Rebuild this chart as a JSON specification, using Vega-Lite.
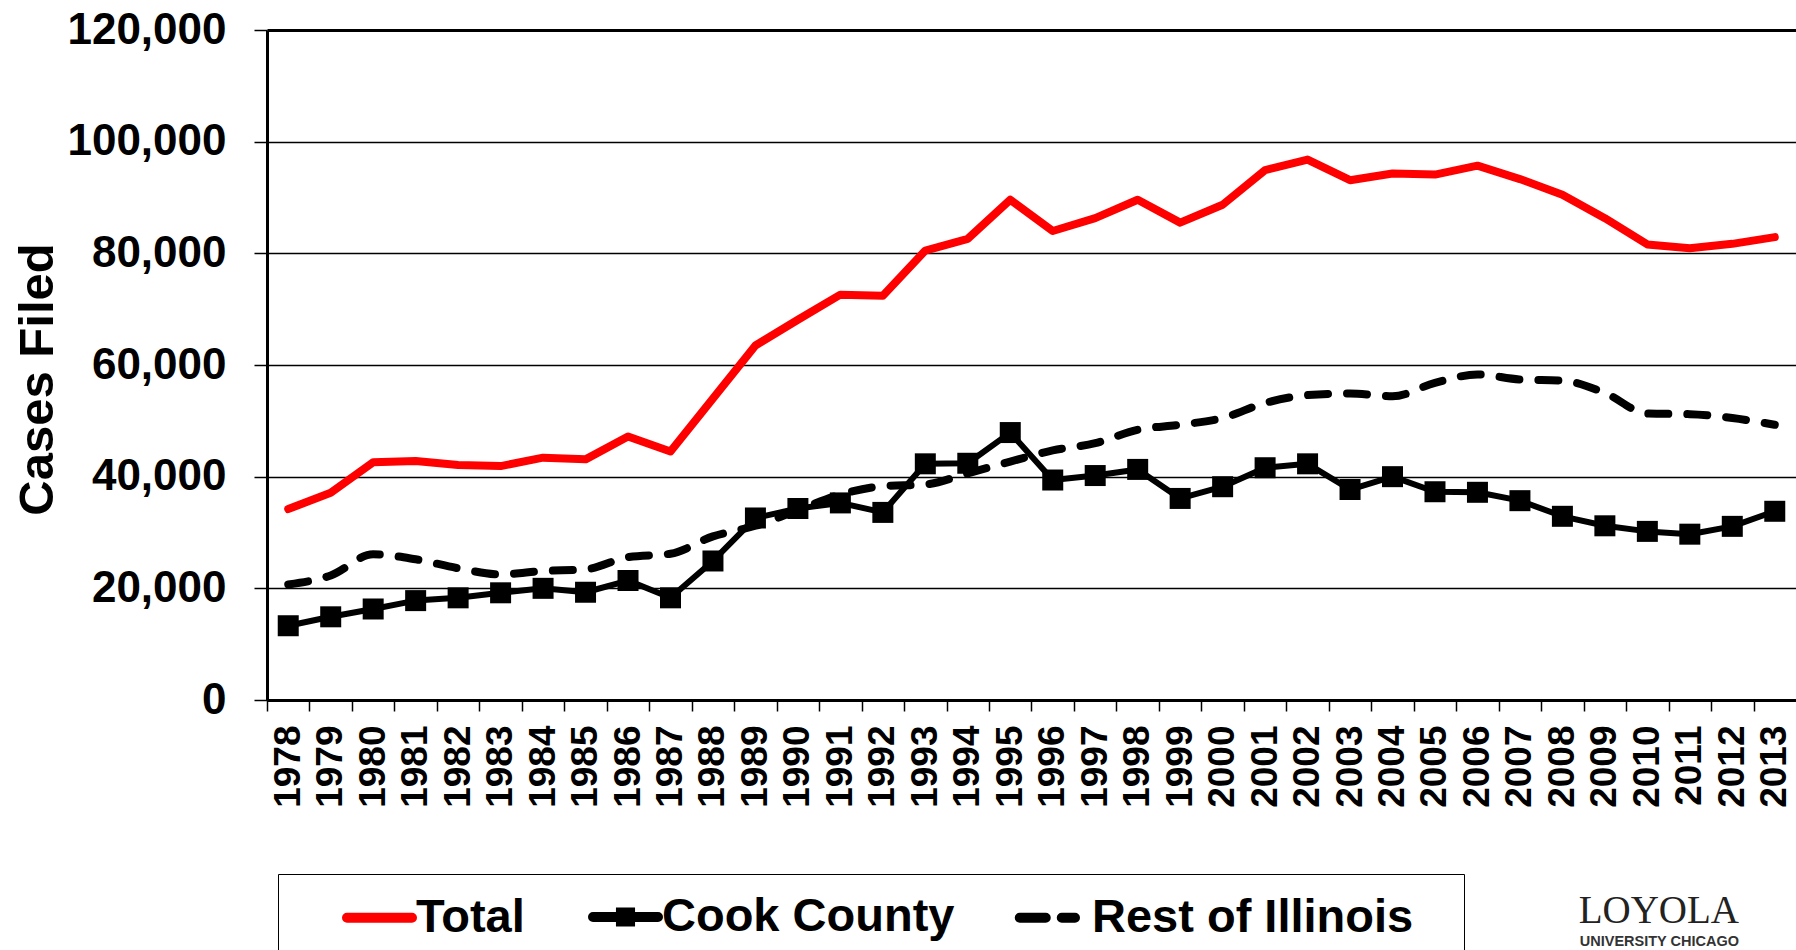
{
  "$schema": "https://vega.github.io/schema/vega-lite/v6.json",
  "autosize": {"type": "none"},
  "padding": {"left": 267, "top": 30, "right": 0, "bottom": 250},
  "width": 1529,
  "height": 670,
  "background": "white",
  "config": {
    "font": "Liberation Sans",
    "view": {"stroke": null},
    "axis": {"labelFont": "Liberation Sans", "labelFontWeight": "bold", "labelColor": "black", "titleFont": "Liberation Sans", "titleFontWeight": "bold", "titleColor": "black", "domainColor": "black", "tickColor": "black"}
  },
  "title": {
    "text": "LOYOLA",
    "subtitle": "UNIVERSITY CHICAGO",
    "orient": "bottom",
    "anchor": "end",
    "frame": "group",
    "font": "Liberation Serif",
    "fontSize": 39,
    "fontWeight": "normal",
    "color": "#222222",
    "subtitleFont": "Liberation Sans",
    "subtitleFontSize": 14.5,
    "subtitleFontWeight": "bold",
    "subtitleColor": "#333333",
    "subtitlePadding": 4,
    "dx": -57,
    "offset": -69
  },
  "data": {
    "values": [
      {"year": "1978", "series": "Total", "value": 34200}, {"year": "1979", "series": "Total", "value": 37100}, {"year": "1980", "series": "Total", "value": 42600}, {"year": "1981", "series": "Total", "value": 42800}, {"year": "1982", "series": "Total", "value": 42100}, {"year": "1983", "series": "Total", "value": 41900}, {"year": "1984", "series": "Total", "value": 43400}, {"year": "1985", "series": "Total", "value": 43100}, {"year": "1986", "series": "Total", "value": 47200}, {"year": "1987", "series": "Total", "value": 44500}, {"year": "1988", "series": "Total", "value": 54000}, {"year": "1989", "series": "Total", "value": 63500}, {"year": "1990", "series": "Total", "value": 68100}, {"year": "1991", "series": "Total", "value": 72600}, {"year": "1992", "series": "Total", "value": 72400}, {"year": "1993", "series": "Total", "value": 80500}, {"year": "1994", "series": "Total", "value": 82600}, {"year": "1995", "series": "Total", "value": 89600}, {"year": "1996", "series": "Total", "value": 84000}, {"year": "1997", "series": "Total", "value": 86300}, {"year": "1998", "series": "Total", "value": 89600}, {"year": "1999", "series": "Total", "value": 85500}, {"year": "2000", "series": "Total", "value": 88700}, {"year": "2001", "series": "Total", "value": 94900}, {"year": "2002", "series": "Total", "value": 96800}, {"year": "2003", "series": "Total", "value": 93100}, {"year": "2004", "series": "Total", "value": 94300}, {"year": "2005", "series": "Total", "value": 94100}, {"year": "2006", "series": "Total", "value": 95700}, {"year": "2007", "series": "Total", "value": 93300}, {"year": "2008", "series": "Total", "value": 90500}, {"year": "2009", "series": "Total", "value": 86300}, {"year": "2010", "series": "Total", "value": 81600}, {"year": "2011", "series": "Total", "value": 80900}, {"year": "2012", "series": "Total", "value": 81700}, {"year": "2013", "series": "Total", "value": 82900},
      {"year": "1978", "series": "Cook County", "value": 13300}, {"year": "1979", "series": "Cook County", "value": 14900}, {"year": "1980", "series": "Cook County", "value": 16300}, {"year": "1981", "series": "Cook County", "value": 17800}, {"year": "1982", "series": "Cook County", "value": 18300}, {"year": "1983", "series": "Cook County", "value": 19200}, {"year": "1984", "series": "Cook County", "value": 20000}, {"year": "1985", "series": "Cook County", "value": 19300}, {"year": "1986", "series": "Cook County", "value": 21400}, {"year": "1987", "series": "Cook County", "value": 18300}, {"year": "1988", "series": "Cook County", "value": 24900}, {"year": "1989", "series": "Cook County", "value": 32600}, {"year": "1990", "series": "Cook County", "value": 34300}, {"year": "1991", "series": "Cook County", "value": 35300}, {"year": "1992", "series": "Cook County", "value": 33600}, {"year": "1993", "series": "Cook County", "value": 42300}, {"year": "1994", "series": "Cook County", "value": 42400}, {"year": "1995", "series": "Cook County", "value": 47900}, {"year": "1996", "series": "Cook County", "value": 39400}, {"year": "1997", "series": "Cook County", "value": 40200}, {"year": "1998", "series": "Cook County", "value": 41300}, {"year": "1999", "series": "Cook County", "value": 36100}, {"year": "2000", "series": "Cook County", "value": 38200}, {"year": "2001", "series": "Cook County", "value": 41600}, {"year": "2002", "series": "Cook County", "value": 42300}, {"year": "2003", "series": "Cook County", "value": 37700}, {"year": "2004", "series": "Cook County", "value": 40000}, {"year": "2005", "series": "Cook County", "value": 37300}, {"year": "2006", "series": "Cook County", "value": 37200}, {"year": "2007", "series": "Cook County", "value": 35700}, {"year": "2008", "series": "Cook County", "value": 32900}, {"year": "2009", "series": "Cook County", "value": 31200}, {"year": "2010", "series": "Cook County", "value": 30200}, {"year": "2011", "series": "Cook County", "value": 29700}, {"year": "2012", "series": "Cook County", "value": 31100}, {"year": "2013", "series": "Cook County", "value": 33800},
      {"year": "1978", "series": "Rest of Illinois", "value": 20700}, {"year": "1979", "series": "Rest of Illinois", "value": 22300}, {"year": "1980", "series": "Rest of Illinois", "value": 26100}, {"year": "1981", "series": "Rest of Illinois", "value": 25200}, {"year": "1982", "series": "Rest of Illinois", "value": 23600}, {"year": "1983", "series": "Rest of Illinois", "value": 22500}, {"year": "1984", "series": "Rest of Illinois", "value": 23100}, {"year": "1985", "series": "Rest of Illinois", "value": 23400}, {"year": "1986", "series": "Rest of Illinois", "value": 25600}, {"year": "1987", "series": "Rest of Illinois", "value": 26200}, {"year": "1988", "series": "Rest of Illinois", "value": 29300}, {"year": "1989", "series": "Rest of Illinois", "value": 31200}, {"year": "1990", "series": "Rest of Illinois", "value": 34000}, {"year": "1991", "series": "Rest of Illinois", "value": 36800}, {"year": "1992", "series": "Rest of Illinois", "value": 38300}, {"year": "1993", "series": "Rest of Illinois", "value": 38600}, {"year": "1994", "series": "Rest of Illinois", "value": 40600}, {"year": "1995", "series": "Rest of Illinois", "value": 42700}, {"year": "1996", "series": "Rest of Illinois", "value": 44700}, {"year": "1997", "series": "Rest of Illinois", "value": 46000}, {"year": "1998", "series": "Rest of Illinois", "value": 48400}, {"year": "1999", "series": "Rest of Illinois", "value": 49300}, {"year": "2000", "series": "Rest of Illinois", "value": 50500}, {"year": "2001", "series": "Rest of Illinois", "value": 53200}, {"year": "2002", "series": "Rest of Illinois", "value": 54600}, {"year": "2003", "series": "Rest of Illinois", "value": 54900}, {"year": "2004", "series": "Rest of Illinois", "value": 54400}, {"year": "2005", "series": "Rest of Illinois", "value": 56800}, {"year": "2006", "series": "Rest of Illinois", "value": 58300}, {"year": "2007", "series": "Rest of Illinois", "value": 57400}, {"year": "2008", "series": "Rest of Illinois", "value": 57200}, {"year": "2009", "series": "Rest of Illinois", "value": 55000}, {"year": "2010", "series": "Rest of Illinois", "value": 51300}, {"year": "2011", "series": "Rest of Illinois", "value": 51200}, {"year": "2012", "series": "Rest of Illinois", "value": 50500}, {"year": "2013", "series": "Rest of Illinois", "value": 49300}
    ]
  },
  "encoding": {
    "x": {
      "field": "year",
      "type": "ordinal",
      "scale": {"type": "point", "padding": 0.5},
      "axis": {
        "title": null,
        "labelAngle": -90,
        "labelFontSize": 37,
        "labelPadding": 14,
        "tickSize": 11,
        "tickWidth": 1.5,
        "tickOffset": -21.24,
        "labelOffset": 21.24,
        "domainWidth": 3,
        "grid": false
      }
    },
    "y": {
      "field": "value",
      "type": "quantitative",
      "scale": {"domain": [0, 120000], "nice": false},
      "axis": {
        "title": "Cases Filed",
        "titleFontSize": 49,
        "titleAngle": -90,
        "titleX": -215,
        "titleY": 349,
        "titleAlign": "center",
        "titleBaseline": "alphabetic",
        "values": [0, 20000, 40000, 60000, 80000, 100000, 120000],
        "format": ",.0f",
        "labelFontSize": 44,
        "labelPadding": 28,
        "tickSize": 13,
        "tickWidth": 1.5,
        "domainWidth": 3,
        "grid": true,
        "gridColor": "black",
        "gridWidth": {"condition": {"test": "datum.value === 120000", "value": 3}, "value": 1.3},
        "gridOpacity": 1
      }
    },
    "color": {
      "field": "series",
      "type": "nominal",
      "scale": {"domain": ["Total", "Cook County", "Rest of Illinois"], "range": ["#ff0000", "#000000", "#000000"]},
      "legend": {
        "title": " ",
        "titleOrient": "right",
        "titlePadding": 46,
        "titleFontSize": 90,
        "orient": "none",
        "legendX": 11,
        "legendY": 844,
        "direction": "horizontal",
        "strokeColor": "black",
        "padding": 5,
        "columnPadding": 4,
        "symbolType": "stroke",
        "symbolSize": 4225,
        "symbolStrokeWidth": 10,
        "symbolOffset": 59,
        "labelOffset": -1,
        "labelFont": "Liberation Sans",
        "labelFontWeight": "bold",
        "labelFontSize": 47,
        "labelColor": "black",
        "labelLimit": 500,
        "encode": {
          "symbols": {
            "update": {
              "shape": {"signal": "datum.value === 'Cook County' ? 'M-1,0H1M-0.14,-0.14H0.14V0.14H-0.14Z' : datum.value === 'Rest of Illinois' ? 'M-1.1,0H0.6' : 'M-1,0H1'"},
              "fill": {"signal": "datum.value === 'Cook County' ? 'black' : 'transparent'"},
              "stroke": {"signal": "datum.value === 'Total' ? '#ff0000' : 'black'"},
              "strokeWidth": {"value": 10},
              "strokeCap": {"value": "round"},
              "strokeDash": {"signal": "datum.value === 'Rest of Illinois' ? [26, 16] : [1, 0]"},
              "size": {"value": 4225},
              "opacity": {"value": 1}
            }
          }
        }
      }
    }
  },
  "layer": [
    {
      "transform": [{"filter": "datum.series === 'Rest of Illinois'"}],
      "mark": {"type": "line", "strokeWidth": 8, "strokeDash": [20, 19], "strokeCap": "round", "interpolate": "monotone"}
    },
    {
      "transform": [{"filter": "datum.series === 'Cook County'"}],
      "mark": {"type": "line", "strokeWidth": 6, "strokeJoin": "round"}
    },
    {
      "transform": [{"filter": "datum.series === 'Cook County'"}],
      "mark": {"type": "point", "shape": "square", "filled": true, "size": 441, "opacity": 1},
      "encoding": {"color": {"value": "black"}}
    },
    {
      "transform": [{"filter": "datum.series === 'Total'"}],
      "mark": {"type": "line", "strokeWidth": 8, "strokeJoin": "round", "strokeCap": "round"}
    }
  ]
}
